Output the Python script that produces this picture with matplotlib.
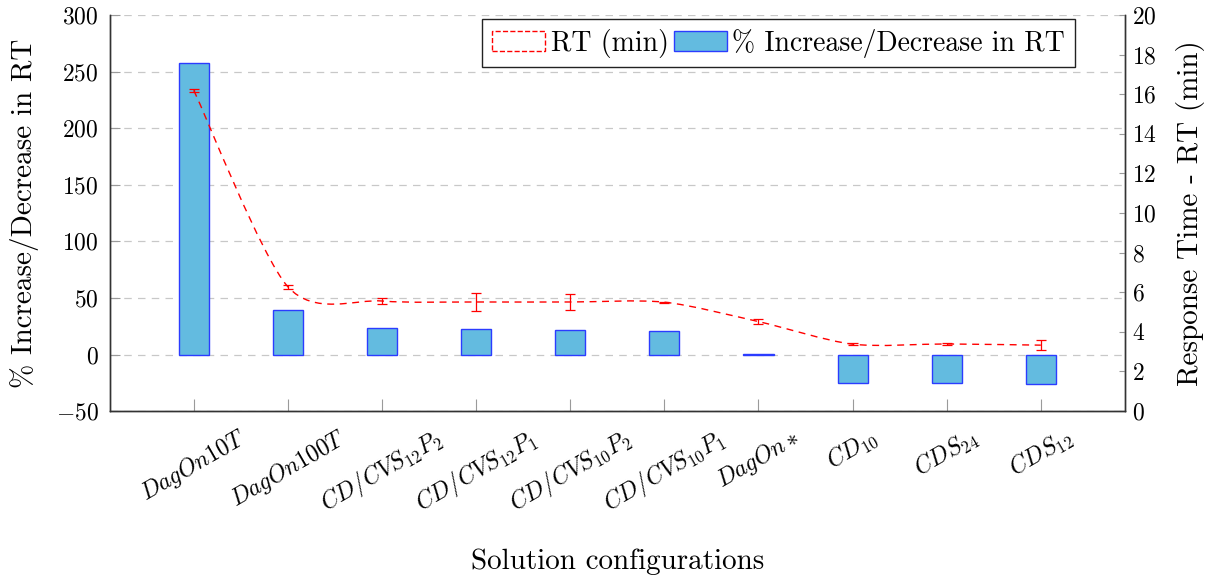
import matplotlib
matplotlib.use("Agg")
import matplotlib.pyplot as plt
import numpy as np
from matplotlib.path import Path
from matplotlib.patches import PathPatch, Patch

plt.rcParams["font.family"] = ["cmr10", "DejaVu Serif"]
plt.rcParams["mathtext.fontset"] = "cm"
plt.rcParams["axes.formatter.use_mathtext"] = True

# ---------------------------------------------------------------------------
# Data
# ---------------------------------------------------------------------------
configs = [r"$DagOn10T$", r"$DagOn100T$", r"$CD/CVS_{12}P_2$", r"$CD/CVS_{12}P_1$",
           r"$CD/CVS_{10}P_2$", r"$CD/CVS_{10}P_1$", r"$DagOn*$", r"$CD_{10}$",
           r"$CDS_{24}$", r"$CDS_{12}$"]
pct_change = [258, 39, 23.5, 22.6, 22, 21.2, 0.3, -25, -25, -26]
rt_min = [16.2, 6.28, 5.56, 5.51, 5.51, 5.50, 4.52, 3.38, 3.39, 3.33]
rt_err = [0.08, 0.10, 0.15, 0.45, 0.38, 0.03, 0.12, 0.06, 0.05, 0.27]

BAR_FACE = "#63bbe0"
BAR_EDGE = "#2b3cff"
LINE = "#ff0000"
GRID = "#c8c8c8"
TICK = "#9a9a9a"


def smooth_path(xs, ys, k=0.14):
    """Bezier path through the points (pgfplots-style 'smooth')."""
    pts = np.column_stack([xs, ys]).astype(float)
    verts = [pts[0]]
    codes = [Path.MOVETO]
    n = len(pts)
    for i in range(n - 1):
        prev_p = pts[i - 1] if i > 0 else pts[i]
        next_p = pts[i + 2] if i + 2 < n else pts[i + 1]
        c1 = pts[i] + k * (pts[i + 1] - prev_p)
        c2 = pts[i + 1] - k * (next_p - pts[i])
        verts += [c1, c2, pts[i + 1]]
        codes += [Path.CURVE4] * 3
    return Path(verts, codes)


fig = plt.figure(figsize=(12.18, 5.79), dpi=100)
ax = fig.add_axes([0.0903, 0.290, 0.8330, 0.684])
ax2 = ax.twinx()

x = np.arange(len(configs))

# Bars (left axis)
ax.bar(x, pct_change, width=0.32, color=BAR_FACE, edgecolor=BAR_EDGE,
       linewidth=1.0, zorder=2)
ax.set_xlim(-0.89, 9.89)
ax.set_ylim(-50, 300)
ax.set_yticks(np.arange(-50, 301, 50))
ax.yaxis.grid(True, color=GRID, linestyle=(0, (6, 5)), linewidth=0.9)
ax.set_axisbelow(True)
ax.set_xticks(x)
ax.set_xticklabels(configs, rotation=30, ha="center", fontsize=17)
ax.tick_params(axis="x", direction="in", length=9, color=TICK, pad=10)
ax.tick_params(axis="y", direction="in", length=7, color=TICK, labelsize=17, pad=8)
ax.set_ylabel("% Increase/Decrease in RT", fontsize=21, labelpad=12)
ax.set_xlabel("Solution configurations", fontsize=21, labelpad=22)

# Response time line (right axis)
path = smooth_path(x, rt_min)
ax2.add_patch(PathPatch(path, facecolor="none", edgecolor=LINE, linestyle=(0, (5, 4)),
                        linewidth=1.0, zorder=3))
ax2.errorbar(x, rt_min, yerr=rt_err, fmt="none", ecolor=LINE, elinewidth=0.9,
             capsize=3.5, capthick=0.9, zorder=4)
ax2.set_ylim(0, 20)
ax2.set_yticks(np.arange(0, 21, 2))
ax2.tick_params(axis="y", direction="in", length=4, color=TICK, labelsize=17, pad=5)
ax2.set_ylabel("Response Time - RT (min)", fontsize=21, labelpad=14)

for a in (ax, ax2):
    a.spines["top"].set_visible(False)
    for side in ("left", "bottom", "right"):
        a.spines[side].set_color("#333333")
        a.spines[side].set_linewidth(1.0)

handles = [Patch(facecolor="none", edgecolor=LINE, linestyle="--", linewidth=1.0),
           Patch(facecolor=BAR_FACE, edgecolor=BAR_EDGE, linewidth=1.0)]
labels = ["RT (min)", "% Increase/Decrease in RT"]
leg = ax2.legend(handles, labels, loc="upper right", bbox_to_anchor=(0.951, 0.99),
                 ncol=2, fontsize=20, frameon=True, fancybox=False, framealpha=1,
                 edgecolor="#222222", handlelength=1.9, handleheight=0.7,
                 handletextpad=0.2, columnspacing=0.2, borderpad=0.35,
                 borderaxespad=0.0)
leg.get_frame().set_linewidth(1.0)

fig.savefig("out.png", dpi=100)
